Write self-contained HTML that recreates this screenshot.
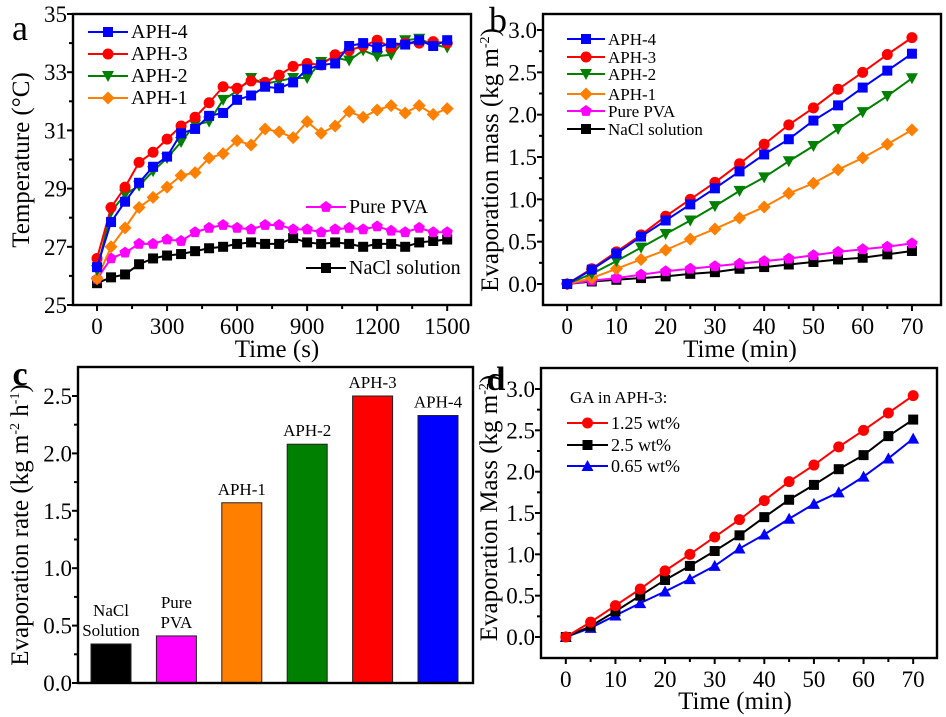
<!DOCTYPE html>
<html><head><meta charset="utf-8">
<style>
body{margin:0;background:#fff;}
svg{display:block;font-family:"Liberation Serif",serif;}
</style></head>
<body>
<svg id="fig" width="946" height="717" viewBox="0 0 946 717" xmlns="http://www.w3.org/2000/svg"></svg>
<script>
// ---------- data ----------
const aTime = [0,60,120,180,240,300,360,420,480,540,600,660,720,780,840,900,960,1020,1080,1140,1200,1260,1320,1380,1440,1500];
const aAPH4 = [26.3,27.85,28.55,29.2,29.75,30.1,30.9,31.05,31.5,31.6,32.05,32.2,32.5,32.45,32.65,33.1,33.25,33.3,33.9,34.0,33.85,34.0,33.95,34.1,33.9,34.1];
const aAPH3 = [26.6,28.35,29.05,29.9,30.25,30.7,31.15,31.45,31.95,32.5,32.45,32.7,32.65,32.9,33.2,33.3,33.25,33.6,33.75,33.9,34.1,33.85,34.0,34.0,34.05,34.0];
const aAPH2 = [26.2,28.2,28.8,29.1,29.6,30.05,30.6,31.2,31.3,32.05,32.35,32.8,32.6,32.7,32.8,32.8,33.35,33.5,33.4,33.75,33.55,33.6,34.1,34.15,33.95,33.85];
const aAPH1 = [25.9,27.0,27.65,28.35,28.7,29.05,29.45,29.55,30.05,30.2,30.65,30.5,31.05,30.95,30.75,31.3,30.9,31.15,31.65,31.45,31.7,31.85,31.6,31.85,31.55,31.75];
const aPVA  = [25.9,26.6,26.8,27.1,27.1,27.25,27.2,27.5,27.65,27.75,27.65,27.6,27.75,27.75,27.6,27.6,27.5,27.6,27.65,27.6,27.7,27.55,27.5,27.65,27.5,27.5];
const aNaCl = [25.75,25.95,26.05,26.4,26.6,26.7,26.75,26.85,26.95,27.0,27.1,27.15,27.1,27.1,27.3,27.15,27.1,27.15,27.1,27.0,27.1,27.1,27.0,27.15,27.2,27.25];
const aYTicks = [25,27,29,31,33,35];
const aXTicks = [0,300,600,900,1200,1500];

const bTime = [0,5,10,15,20,25,30,35,40,45,50,55,60,65,70];
const bAPH4 = [0,0.17,0.36,0.56,0.75,0.94,1.13,1.33,1.53,1.71,1.93,2.11,2.32,2.52,2.72];
const bAPH3 = [0,0.18,0.38,0.58,0.80,1.00,1.20,1.42,1.65,1.88,2.08,2.30,2.50,2.71,2.91];
const bAPH2 = [0,0.12,0.27,0.43,0.59,0.75,0.92,1.10,1.26,1.45,1.63,1.83,2.03,2.22,2.43];
const bAPH1 = [0,0.07,0.18,0.29,0.40,0.53,0.65,0.78,0.91,1.07,1.19,1.35,1.49,1.65,1.82];
const bPVA  = [0,0.04,0.07,0.11,0.15,0.18,0.21,0.24,0.27,0.30,0.34,0.38,0.41,0.44,0.48];
const bNaCl = [0,0.03,0.05,0.07,0.09,0.12,0.14,0.18,0.20,0.23,0.26,0.29,0.31,0.35,0.39];
const massTicks = [0,0.5,1.0,1.5,2.0,2.5,3.0];
const minTicks = [0,10,20,30,40,50,60,70];

const cCats = [["NaCl","Solution"],["Pure","PVA"],["APH-1"],["APH-2"],["APH-3"],["APH-4"]];
const cRates = [0.34,0.41,1.57,2.08,2.50,2.33];
const cYTicks = [0,0.5,1.0,1.5,2.0,2.5];

const dTime = [0,5,10,15,20,25,30,35,40,45,50,55,60,65,70];
const d125 = [0,0.18,0.38,0.58,0.80,1.00,1.21,1.42,1.65,1.88,2.08,2.30,2.50,2.71,2.92];
const d25  = [0,0.13,0.31,0.50,0.69,0.86,1.04,1.23,1.45,1.66,1.84,2.03,2.20,2.43,2.63];
const d065 = [0,0.11,0.26,0.41,0.55,0.70,0.86,1.07,1.24,1.43,1.61,1.75,1.94,2.16,2.40];

// ---------- helpers ----------
const NS="http://www.w3.org/2000/svg";
const svg=document.getElementById('fig');
function mk(tag,attrs,parent){const e=document.createElementNS(NS,tag);for(const k in attrs)e.setAttribute(k,attrs[k]);(parent||svg).appendChild(e);return e;}
function lin(d0,d1,r0,r1){return v=>r0+(v-d0)/(d1-d0)*(r1-r0);}
function fmt(v,dec){return dec?v.toFixed(dec):String(v);}
const TFS=23;

function axes(g,box,sx,sy,xt,yt,xdec,ydec,minorX,minorY){
  const f=mk('rect',{x:box.l,y:box.t,width:box.r-box.l,height:box.b-box.t,fill:'none',stroke:'#000','stroke-width':2.4},g);
  
  
  if(xt){
    xt.forEach((v,i)=>{
      const x=sx(v);
      const t=mk('line',{x1:x,x2:x,y1:box.b,y2:box.b+6,stroke:'#000','stroke-width':2},g);
      
      
      const tx=mk('text',{x:x,y:box.b+29,'text-anchor':'middle','font-size':TFS},g);
      tx.textContent=fmt(v,xdec);
      
      
      if(i<xt.length-1&&minorX){
        const mx=sx((v+xt[i+1])/2);
        mk('line',{x1:mx,x2:mx,y1:box.b,y2:box.b+4,stroke:'#000','stroke-width':2},g);
      }
    });
  }
  yt.forEach((v,i)=>{
    const y=sy(v);
    const t=mk('line',{x1:box.l-6,x2:box.l,y1:y,y2:y,stroke:'#000','stroke-width':2},g);
    
    
    const tx=mk('text',{x:box.l-6,y:y+8,'text-anchor':'end','font-size':TFS},g);
    tx.textContent=fmt(v,ydec);
    
    
    if(i<yt.length-1&&minorY){
      const my=sy((v+yt[i+1])/2);
      mk('line',{x1:box.l-4,x2:box.l,y1:my,y2:my,stroke:'#000','stroke-width':2},g);
    }
  });
}

function marker(g,shape,x,y,c,s){
  s=s||5;
  let e;
  if(shape==='sq')e=mk('rect',{x:x-s,y:y-s,width:2*s,height:2*s,fill:c},g);
  else if(shape==='ci')e=mk('circle',{cx:x,cy:y,r:s+0.5,fill:c},g);
  else if(shape==='dn')e=mk('polygon',{points:`${x-s-1},${y-s} ${x+s+1},${y-s} ${x},${y+s+1}`,fill:c},g);
  else if(shape==='up')e=mk('polygon',{points:`${x-s-1},${y+s} ${x+s+1},${y+s} ${x},${y-s-1}`,fill:c},g);
  else if(shape==='di')e=mk('polygon',{points:`${x},${y-s-1.5} ${x+s+1.5},${y} ${x},${y+s+1.5} ${x-s-1.5},${y}`,fill:c},g);
  else if(shape==='pe'){const p=[];for(let k=0;k<5;k++){const a=-Math.PI/2+k*2*Math.PI/5;p.push((x+(s+1)*Math.cos(a))+','+(y+(s+1)*Math.sin(a)));}e=mk('polygon',{points:p.join(' '),fill:c},g);}
  return e;
}

function series(g,name,xs,ys,sx,sy,c,shape){
  const sg=mk('g',{},g);
  
  
  const pts=xs.map((v,i)=>sx(v)+','+sy(ys[i])).join(' ');
  mk('polyline',{points:pts,fill:'none',stroke:c,'stroke-width':2},sg);
  xs.forEach((v,i)=>{const m=marker(sg,shape,sx(v),sy(ys[i]),c);
    
    });
}

function legendEntry(g,x1,x2,y,c,shape,label,fs){
  const lg=mk('g',{},g);
  
  
  mk('line',{x1:x1,x2:x2,y1:y,y2:y,stroke:c,'stroke-width':2},lg);
  marker(lg,shape,(x1+x2)/2,y,c,5);
  const t=mk('text',{x:x2+3,y:y+6,'font-size':fs||18},lg);
  t.textContent=label;
}

function label(txt,x,y,fs,name,anchor,weight){
  const t=mk('text',{x:x,y:y,'font-size':fs,'text-anchor':anchor||'middle'});
  if(weight)t.setAttribute('font-weight',weight);
  t.textContent=txt;
  
  
  return t;
}
function vlabel(html,x,y,fs,name){
  const t=mk('text',{x:0,y:0,'font-size':fs,'text-anchor':'middle',transform:`translate(${x},${y}) rotate(-90)`});
  t.innerHTML=html;
  
  
}

// ---------- panel a ----------
{
  const g=mk('g',{});
  const box={l:73,t:14,r:471,b:305};
  const sx=lin(-103,1602,box.l,box.r), sy=lin(25,35,box.b,box.t);
  axes(g,box,sx,sy,aXTicks,aYTicks,0,0,true,true);
  series(g,'series-nacl',aTime,aNaCl,sx,sy,'#000','sq');
  series(g,'series-pure-pva',aTime,aPVA,sx,sy,'#ff00ff','pe');
  series(g,'series-aph1',aTime,aAPH1,sx,sy,'#ff7f00','di');
  series(g,'series-aph2',aTime,aAPH2,sx,sy,'#008000','dn');
  series(g,'series-aph3',aTime,aAPH3,sx,sy,'#ff0000','ci');
  series(g,'series-aph4',aTime,aAPH4,sx,sy,'#0000ff','sq');
  legendEntry(g,88,128,32,'#0000ff','sq','APH-4',20);
  legendEntry(g,88,128,54,'#ff0000','ci','APH-3',20);
  legendEntry(g,88,128,76,'#008000','dn','APH-2',20);
  legendEntry(g,88,128,98,'#ff7f00','di','APH-1',20);
  legendEntry(g,306,346,207,'#ff00ff','pe','Pure PVA',20);
  legendEntry(g,306,346,268,'#000','sq','NaCl solution',20);
  label('a',20,40,36,'panel-label-a');
  label('Time (s)',277,357,25,'x-axis-title-a');
  vlabel('Temperature (°C)',29,160,25,'y-axis-title-a');
}
// ---------- panel b ----------
{
  const g=mk('g',{});
  const box={l:543,t:14,r:941,b:305};
  const sx=lin(-4.9,75.9,box.l,box.r), sy=lin(0,3,284,30);
  axes(g,box,sx,sy,minTicks,massTicks,0,1,true,true);
  series(g,'series-nacl',bTime,bNaCl,sx,sy,'#000','sq');
  series(g,'series-pure-pva',bTime,bPVA,sx,sy,'#ff00ff','pe');
  series(g,'series-aph1',bTime,bAPH1,sx,sy,'#ff7f00','di');
  series(g,'series-aph2',bTime,bAPH2,sx,sy,'#008000','dn');
  series(g,'series-aph3',bTime,bAPH3,sx,sy,'#ff0000','ci');
  series(g,'series-aph4',bTime,bAPH4,sx,sy,'#0000ff','sq');
  const L=[['#0000ff','sq','APH-4'],['#ff0000','ci','APH-3'],['#008000','dn','APH-2'],['#ff7f00','di','APH-1'],['#ff00ff','pe','Pure PVA'],['#000','sq','NaCl solution']];
  const LY=[39,57,74,94,111,129];
  L.forEach((e,i)=>legendEntry(g,567,605,LY[i],e[0],e[1],e[2],17));
  label('b',498,32,36,'panel-label-b');
  label('Time (min)',740,357,25,'x-axis-title-b');
  vlabel('Evaporation mass (kg m<tspan dy="-9" font-size="14">-2</tspan><tspan dy="9">)</tspan>',498,160,25,'y-axis-title-b');
}
// ---------- panel c ----------
{
  const g=mk('g',{});
  const box={l:78,t:367,r:473,b:683};
  const sy=lin(0,2.5,683,396);
  const colors=['#000000','#ff00ff','#ff7f00','#008000','#ff0000','#0000ff'];
  const sxc=i=>111+i*65.4;
  cRates.forEach((v,i)=>{
    const r=mk('rect',{x:sxc(i)-20,y:sy(v),width:40,height:sy(0)-sy(v),fill:colors[i],stroke:'#222','stroke-width':1},g);
    
    
    cCats[i].forEach((ln,k)=>{
      const n=cCats[i].length;
      const t=mk('text',{x:sxc(i),y:sy(v)-8-(n-1-k)*20,'text-anchor':'middle','font-size':17},g);
      t.textContent=ln;
      
      
    });
  });
  axes(g,box,null,sy,null,cYTicks,0,1,false,true);
  label('c',20,385,34,'panel-label-c','middle','bold');
  vlabel('Evaporation rate (kg m<tspan dy="-9" font-size="14">-2</tspan><tspan dy="9"> h</tspan><tspan dy="-9" font-size="14">-1</tspan><tspan dy="9">)</tspan>',28,525,25,'y-axis-title-c');
}
// ---------- panel d ----------
{
  const g=mk('g',{});
  const box={l:541,t:368,r:937,b:658};
  const sx=lin(-5,74.8,box.l,box.r), sy=lin(0,3,637,389);
  axes(g,box,sx,sy,minTicks,massTicks,0,1,true,true);
  series(g,'series-0-65-wt',dTime,d065,sx,sy,'#0000ff','up');
  series(g,'series-2-5-wt',dTime,d25,sx,sy,'#000','sq');
  series(g,'series-1-25-wt',dTime,d125,sx,sy,'#ff0000','ci');
  label('GA in APH-3:',570,403,17,'legend-title-d','start');
  legendEntry(g,567,608,423,'#ff0000','ci','1.25 wt%',18);
  legendEntry(g,567,608,445,'#000','sq','2.5 wt%',18);
  legendEntry(g,567,608,466,'#0000ff','up','0.65 wt%',18);
  label('d',496,390,34,'panel-label-d','middle','bold');
  label('Time (min)',735,709,25,'x-axis-title-d');
  vlabel('Evaporation Mass (kg m<tspan dy="-9" font-size="14">-2</tspan><tspan dy="9">)</tspan>',497,508,25,'y-axis-title-d');
}
</script>
</body></html>
